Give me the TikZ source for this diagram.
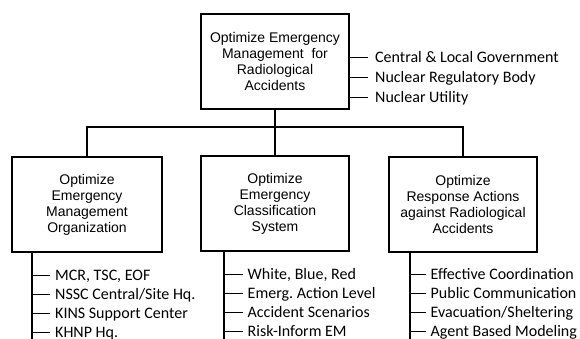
\documentclass[tikz,border=0pt]{standalone}
\usepackage{fontspec}
\setmainfont{Liberation Sans}
\newfontfamily\listfont{Carlito}
\frenchspacing

\begin{document}
\begin{tikzpicture}[x=1pt, y=-1pt,
    box/.style={draw, line width=2pt, minimum width=148pt, minimum height=95pt,
        inner sep=0pt, align=center, font=\fontsize{14}{16}\selectfont},
    link/.style={line width=2pt},
    rail/.style={line width=1.5pt},
    tick/.style={line width=1pt},
    item/.style={anchor=west, inner sep=0pt, text height=10.3pt, text depth=0pt,
        font=\listfont\fontsize{16}{20}\selectfont}
]
    \clip (0,0) rectangle (580,338);
    % Oberstes Ziel
    \node[box] (top) at (275,61.5) {Optimize Emergency\\Management~ for\\Radiological\\Accidents};
    \node[item] (g1) at (375,57) {Central \& Local Government};
    \node[item] (g2) at (375,77) {Nuclear Regulatory Body};
    \node[item] (g3) at (375,97) {Nuclear Utility};
    \foreach \i in {1,2,3}
        \draw[tick] (top.east |- g\i) -- ([xshift=-7pt]g\i.west);
    % Teilziele
    \node[box, minimum width=150pt] (org) at (87,204.5) {Optimize\\Emergency\\Management\\Organization};
    \node[box] (cls) at (275,203.5) {Optimize\\Emergency\\Classification\\System};
    \node[box] (act) at (463,204) {Optimize\\Response Actions\\against Radiological\\Accidents};
    \coordinate (bus) at (275,127);
    \draw[link] (top.south) -- (cls.north);
    \draw[link] (org.north) |- (bus) -| (act.north);
    % Massnahmen links
    \coordinate (orgR) at (32,345);
    \node[item] (o1) at (55,275.5) {MCR, TSC, EOF};
    \node[item] (o2) at (55,294.5) {NSSC Central/Site Hq.};
    \node[item] (o3) at (55,313.5) {KINS Support Center};
    \node[item] (o4) at (55,332.5) {KHNP Hq.};
    \draw[rail] (org.south -| orgR) -- (orgR);
    \foreach \i in {1,...,4}
        \draw[tick] (orgR |- o\i) -- ([xshift=-5pt]o\i.west);
    % Massnahmen Mitte
    \coordinate (clsR) at (224,345);
    \node[item] (c1) at (247.5,274.5) {White, Blue, Red};
    \node[item] (c2) at (247.5,293.5) {Emerg. Action Level};
    \node[item] (c3) at (247.5,312.5) {Accident Scenarios};
    \node[item] (c4) at (247.5,331.5) {Risk-Inform EM};
    \draw[rail] (cls.south -| clsR) -- (clsR);
    \foreach \i in {1,...,4}
        \draw[tick] (clsR |- c\i) -- ([xshift=-5pt]c\i.west);
    % Massnahmen rechts
    \coordinate (actR) at (410,345);
    \node[item] (a1) at (430.5,274.5) {Effective Coordination};
    \node[item] (a2) at (430.5,293.5) {Public Communication};
    \node[item] (a3) at (430.5,312.5) {Evacuation/Sheltering};
    \node[item] (a4) at (430.5,331.5) {Agent Based Modeling};
    \draw[rail] (act.south -| actR) -- (actR);
    \foreach \i in {1,...,4}
        \draw[tick] (actR |- a\i) -- ([xshift=-5pt]a\i.west);
\end{tikzpicture}
\end{document}
